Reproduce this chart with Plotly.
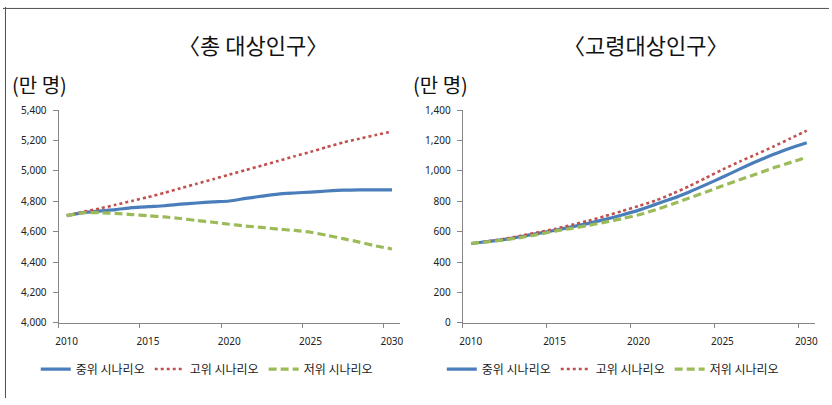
import plotly.graph_objects as go

W, H = 832, 405

years = list(range(2010, 2031))

# 총 대상인구 (만 명)
total_mid = [4706, 4726, 4736, 4745, 4758, 4765, 4771, 4781, 4789, 4796, 4802,
             4819, 4834, 4848, 4855, 4861, 4868, 4874, 4876, 4876, 4876]
total_high = [4706, 4730, 4752, 4777, 4802, 4828, 4856, 4886, 4916, 4946, 4976,
              5006, 5036, 5066, 5097, 5126, 5158, 5188, 5213, 5237, 5260]
total_low = [4706, 4724, 4725, 4720, 4713, 4705, 4697, 4687, 4673, 4662, 4649,
             4637, 4628, 4617, 4608, 4596, 4576, 4554, 4531, 4506, 4486]

# 고령대상인구 (만 명)
elder_mid = [522, 535, 549, 568, 589, 609, 632, 655, 681, 710, 742,
             780, 818, 862, 910, 960, 1012, 1062, 1108, 1150, 1186]
elder_high = [522, 537, 553, 574, 596, 618, 645, 672, 703, 736, 770,
              805, 850, 900, 955, 1010, 1062, 1110, 1160, 1213, 1266]
elder_low = [522, 533, 546, 562, 582, 604, 622, 641, 663, 686, 712,
             745, 782, 822, 862, 902, 942, 980, 1020, 1055, 1090]

series_names = ["중위 시나리오", "고위 시나리오", "저위 시나리오"]
titles = ["〈총 대상인구〉", "〈고령대상인구〉"]
unit_label = "(만 명)"
x_ticks = [2010, 2015, 2020, 2025, 2030]
total_yticks = list(range(4000, 5401, 200))
elder_yticks = list(range(0, 1401, 200))

colors = ["#4A7EBB", "#C0504D", "#9BBB59"]
dashes = ["solid", "dot", "8px,4px"]
widths = [3.2, 2.6, 3.2]


def px(x):  # page x -> paper x
    return x / W


def py(y):  # page y -> paper y
    return 1 - y / H


fig = go.Figure()

panels = [
    ("x", "y", "legend", [total_mid, total_high, total_low]),
    ("x2", "y2", "legend2", [elder_mid, elder_high, elder_low]),
]
for xa, ya, lg, data in panels:
    for name, vals, c, d, w in zip(series_names, data, colors, dashes, widths):
        fig.add_trace(go.Scatter(
            x=years, y=vals, name=name, mode="lines", xaxis=xa, yaxis=ya,
            legend=lg, line=dict(color=c, dash=d, width=w, shape="spline", smoothing=0.6),
        ))

axis_col = "#868686"
tick_font = dict(family="Noto Sans, DejaVu Sans", size=10, color="#222222")


def xaxis(domain, anchor):
    return dict(
        domain=domain, anchor=anchor, range=[2009.5, 2030.5],
        tickmode="array", tickvals=[t - 0.5 for t in x_ticks],
        ticktext=[str(t) for t in x_ticks], ticklabelshift=8, ticklabelstandoff=5,
        ticks="outside", ticklen=4, tickcolor=axis_col,
        showline=True, linecolor=axis_col, linewidth=1,
        showgrid=False, zeroline=False, tickfont=tick_font, fixedrange=True,
    )


def yaxis(domain, anchor, yt):
    return dict(
        domain=domain, anchor=anchor, range=[yt[0], yt[-1]],
        tickmode="array", tickvals=yt, tickformat=",", ticklabelstandoff=4,
        ticks="outside", ticklen=5, tickcolor=axis_col,
        showline=True, linecolor=axis_col, linewidth=1,
        showgrid=False, zeroline=False, tickfont=tick_font, fixedrange=True,
    )


ydom = [py(327), py(107)]
fig.update_layout(
    width=W, height=H,
    margin=dict(l=0, r=0, t=0, b=0),
    paper_bgcolor="white", plot_bgcolor="white",
    xaxis=xaxis([px(56), px(400)], "y"),
    yaxis=yaxis(ydom, "x", total_yticks),
    xaxis2=xaxis([px(463), px(818)], "y2"),
    yaxis2=yaxis(ydom, "x2", elder_yticks),
    font=dict(family="Noto Sans CJK KR"),
)

leg_common = dict(
    orientation="h", xanchor="left", yanchor="middle", y=py(375),
    font=dict(family="Noto Sans CJK KR", size=12, color="#1a1a1a"),
    itemwidth=30, bgcolor="rgba(0,0,0,0)", traceorder="normal",
    itemclick=False, itemdoubleclick=False,
)
fig.update_layout(
    legend=dict(x=px(33), **leg_common),
    legend2=dict(x=px(442), **leg_common),
)

for cx, t in zip([252, 647], titles):
    fig.add_annotation(x=px(cx), y=py(38), xref="paper", yref="paper",
                       text=t, showarrow=False, xanchor="center", yanchor="middle",
                       font=dict(family="Noto Sans CJK KR", size=22, color="#111111"))
for lx in [7, 411]:
    fig.add_annotation(x=px(lx), y=py(80), xref="paper", yref="paper",
                       text=unit_label, showarrow=False, xanchor="left", yanchor="middle",
                       font=dict(family="Noto Sans CJK KR", size=20, color="#111111"))

# outer frame (left and top edges)
fig.add_shape(type="line", xref="paper", yref="paper", x0=px(2.5), x1=px(2.5),
              y0=0, y1=1, line=dict(color="#505050", width=1))
fig.add_shape(type="line", xref="paper", yref="paper", x0=0, x1=1,
              y0=py(1.5), y1=py(1.5), line=dict(color="#505050", width=1))

fig.write_html("out.html", config={"displayModeBar": False},
               post_script="document.body.style.margin='0';document.body.style.overflow='hidden';")
